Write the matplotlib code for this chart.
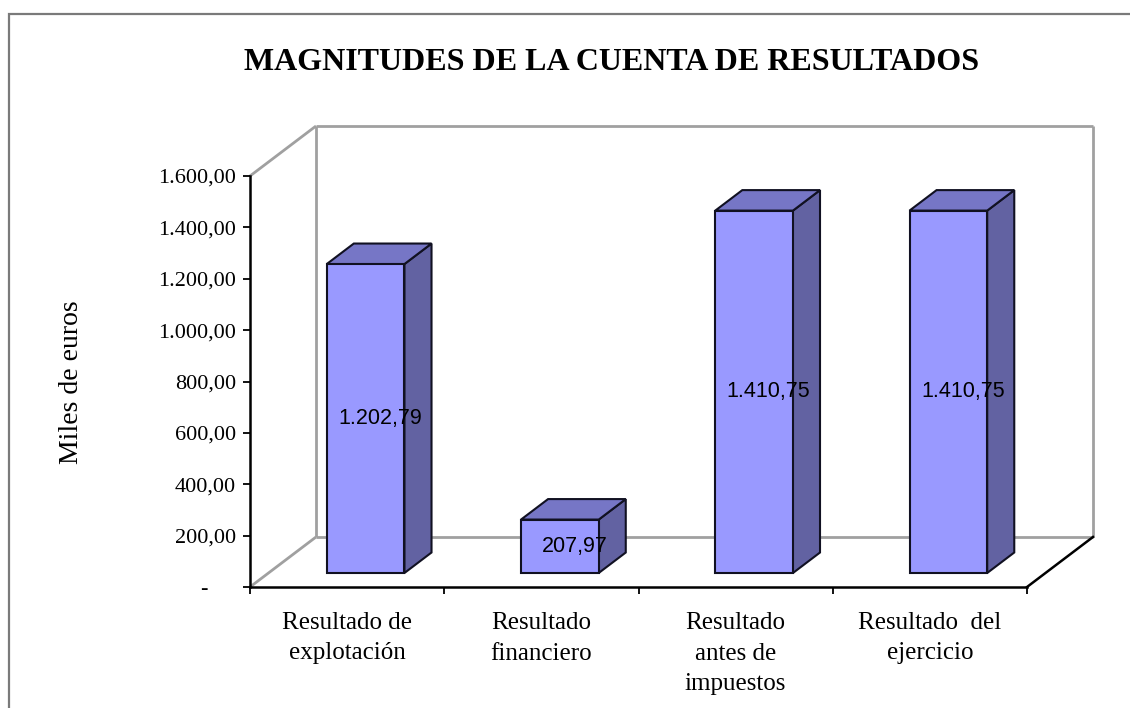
import matplotlib
matplotlib.use("Agg")
import matplotlib.pyplot as plt
from matplotlib.patches import Polygon, Rectangle

categories = ["Resultado de\nexplotación", "Resultado\nfinanciero",
              "Resultado\nantes de\nimpuestos", "Resultado  del\nejercicio"]
values = [1202.79, 207.97, 1410.75, 1410.75]
value_labels = ["1.202,79", "207,97", "1.410,75", "1.410,75"]
yticks = [0, 200, 400, 600, 800, 1000, 1200, 1400, 1600]
ytick_labels = ["-     ", "200,00", "400,00", "600,00", "800,00", "1.000,00",
                "1.200,00", "1.400,00", "1.600,00"]
title = "MAGNITUDES DE LA CUENTA DE RESULTADOS"
ylabel = "Miles de euros"

W, H = 1130, 708
fig = plt.figure(figsize=(W / 100, H / 100), dpi=100)
fig.patch.set_facecolor("white")

# outer border (gray)
fig.add_artist(Rectangle((9 / W, -0.05), 1.2, 1 - 14 / H + 0.05,
                         transform=fig.transFigure, fill=False,
                         edgecolor="#7a7a7a", linewidth=1.6))

left_px, right_px, top_px, bot_px = 250, 1027, 176, 587
ax = fig.add_axes([left_px / W, 1 - bot_px / H,
                   (right_px - left_px) / W, (bot_px - top_px) / H])
ax.set_xlim(-0.5, 3.5)
ax.set_ylim(0, 1600)
ax.patch.set_alpha(0)

# depth offsets in data units
DX = 66 / ((right_px - left_px) / 4)
DY = 50 / ((bot_px - top_px) / 1600)

def P(x, y, d):
    return (x + d * DX, y + d * DY)

gray = "#a0a0a0"
wall_kw = dict(color=gray, lw=2.0, clip_on=False, solid_capstyle="butt", zorder=1)
x0, x1 = -0.5, 3.5
# back wall & floor edges
for a, b in [((x0, 1600, 0), (x0, 1600, 1)),
             ((x0, 1600, 1), (x1, 1600, 1)),
             ((x1, 1600, 1), (x1, 0, 1)),
             ((x0, 1600, 1), (x0, 0, 1)),
             ((x0, 0, 1), (x1, 0, 1)),
             ((x0, 0, 0), (x0, 0, 1))]:
    pa, pb = P(*a), P(*b)
    ax.plot([pa[0], pb[0]], [pa[1], pb[1]], **wall_kw)
pa, pb = P(x1, 0, 0), P(x1, 0, 1)
ax.plot([pa[0], pb[0]], [pa[1], pb[1]], color="black", lw=1.8,
        clip_on=False, zorder=1)

# bars
bw = 0.40
d0, d1 = 0.28, 0.69
front_c, top_c, side_c = "#9999ff", "#7676c6", "#6262a2"
for i, v in enumerate(values):
    xl, xr = i - bw / 2, i + bw / 2
    front = [P(xl, 0, d0), P(xr, 0, d0), P(xr, v, d0), P(xl, v, d0)]
    top = [P(xl, v, d0), P(xr, v, d0), P(xr, v, d1), P(xl, v, d1)]
    side = [P(xr, 0, d0), P(xr, 0, d1), P(xr, v, d1), P(xr, v, d0)]
    for poly, c in [(side, side_c), (top, top_c), (front, front_c)]:
        ax.add_patch(Polygon(poly, closed=True, facecolor=c,
                             edgecolor="#111122", linewidth=1.5,
                             joinstyle="miter", clip_on=False, zorder=3))
    lx, ly = P(i + 0.075, v / 2, d0)
    ax.text(lx, ly, value_labels[i], ha="center", va="center",
            fontsize=15.5, family="Liberation Sans", color="black", zorder=5)

# axes styling
for s in ["top", "right"]:
    ax.spines[s].set_visible(False)
ax.spines["left"].set_linewidth(1.8)
ax.spines["bottom"].set_linewidth(1.8)
ax.spines["left"].set_zorder(2)
ax.spines["bottom"].set_zorder(2)

ax.set_yticks(yticks)
ax.set_yticklabels(ytick_labels, family="Liberation Serif", fontsize=16)
ax.tick_params(axis="y", direction="out", length=5, width=1.3, pad=5)

ax.set_xticks([-0.5, 0.5, 1.5, 2.5, 3.5])
ax.set_xticklabels([])
ax.tick_params(axis="x", which="major", direction="out", length=5, width=1.3)
ax.set_xticks([0, 1, 2, 3], minor=True)
ax.set_xticklabels(categories, minor=True, family="Liberation Serif",
                   fontsize=18, linespacing=1.5)
ax.tick_params(axis="x", which="minor", length=0, pad=18)

fig.text(72 / W, 1 - 382 / H, ylabel, rotation=90, ha="center", va="center",
         family="Liberation Serif", fontsize=20)
fig.text(612 / W, 1 - 63 / H, title, ha="center", va="center",
         family="Liberation Serif", fontweight="bold", fontsize=23)

fig.savefig("out.png", dpi=100)
